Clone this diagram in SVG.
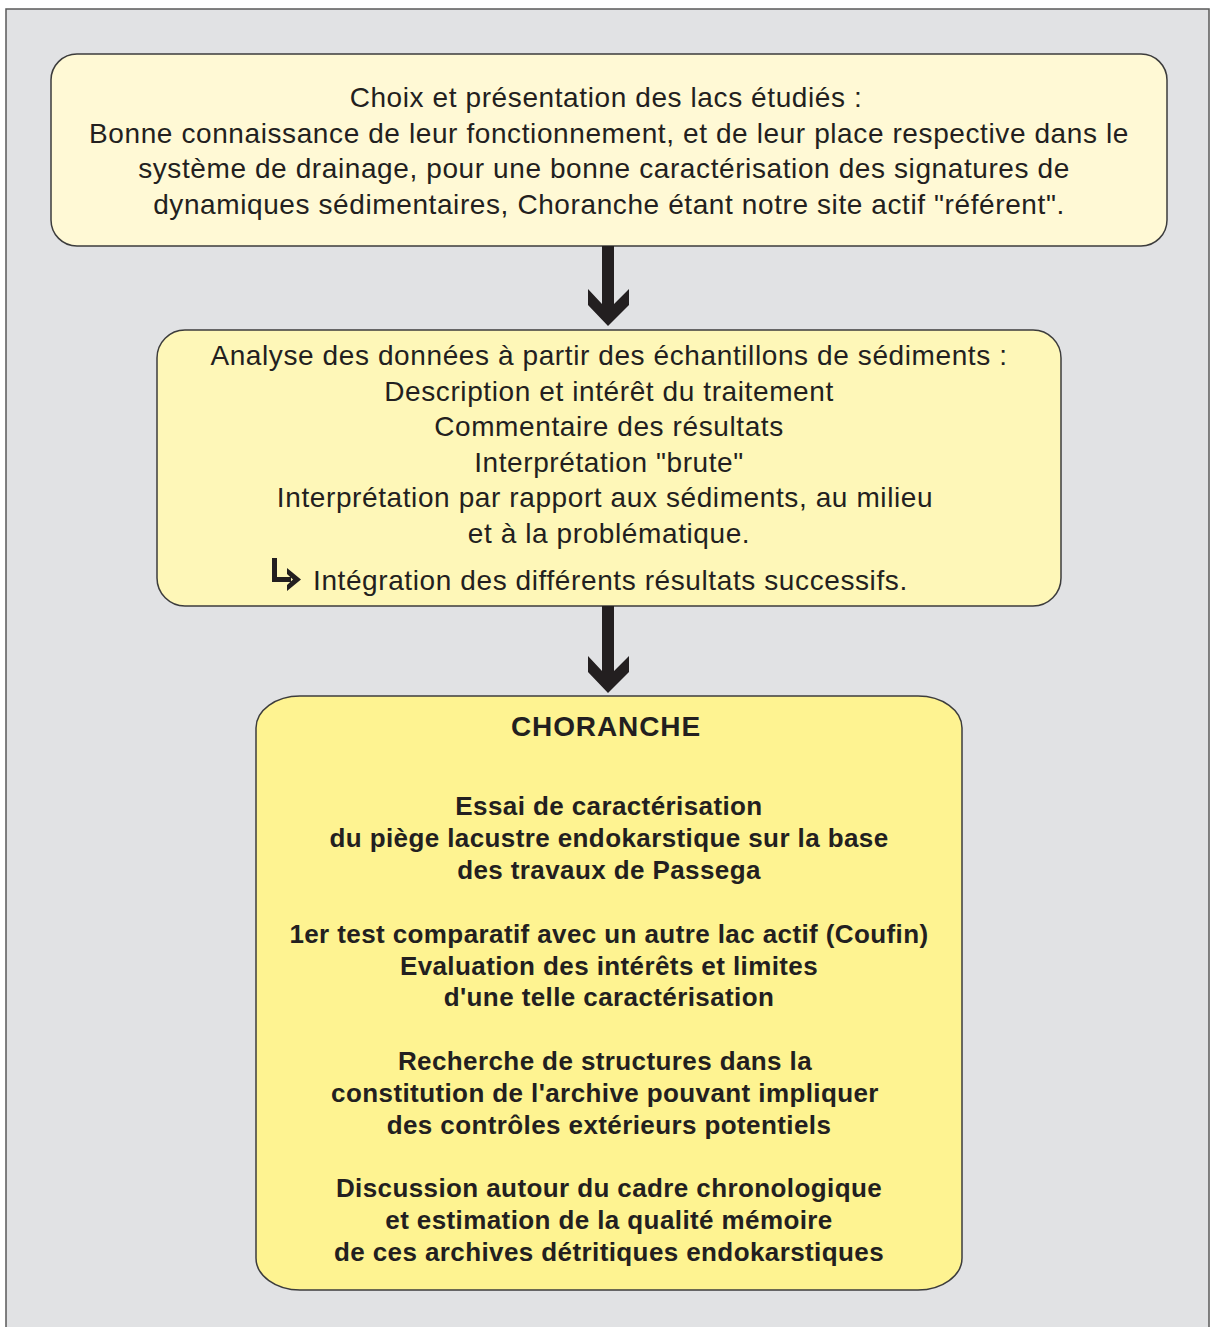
<svg xmlns="http://www.w3.org/2000/svg" width="1211" height="1327" viewBox="0 0 1211 1327">
<style>
.bg{fill:#e1e2e4;stroke:#5a5a5a;stroke-width:1.5}
.box{stroke:#3c3c3c;stroke-width:1.5}
.t{font-family:"Liberation Sans",Arial,sans-serif;font-size:28px;letter-spacing:0.6px;fill:#231f20;text-anchor:middle}
.b{font-family:"Liberation Sans",Arial,sans-serif;font-size:26px;letter-spacing:0.4px;font-weight:bold;fill:#231f20;text-anchor:middle}
.h{font-size:28px;letter-spacing:0.9px}
.arr{fill:#231f20}
</style>
<rect width="1211" height="1327" fill="#ffffff"/>
<rect class="bg" x="6" y="9" width="1203" height="1330"/>
<g id="node1">
<rect class="box" x="51" y="54" width="1116" height="192" rx="26" ry="26" fill="#fff9d5"/>
<text class="t" x="606" y="107">Choix et présentation des lacs étudiés :</text>
<text class="t" x="609" y="143">Bonne connaissance de leur fonctionnement, et de leur place respective dans le</text>
<text class="t" x="604" y="178">système de drainage, pour une bonne caractérisation des signatures de</text>
<text class="t" x="609" y="214">dynamiques sédimentaires, Choranche étant notre site actif "référent".</text>
</g>
<g id="node2">
<rect class="box" x="157" y="330" width="904" height="276" rx="28" ry="28" fill="#fef7b8"/>
<text class="t" x="609" y="365">Analyse des données à partir des échantillons de sédiments :</text>
<text class="t" x="609" y="401">Description et intérêt du traitement</text>
<text class="t" x="609" y="436">Commentaire des résultats</text>
<text class="t" x="609" y="472">Interprétation "brute"</text>
<text class="t" x="605" y="507">Interprétation par rapport aux sédiments, au milieu</text>
<text class="t" x="609" y="543">et à la problématique.</text>
<path d="M274.5 558 V579.5 H291" fill="none" stroke="#231f20" stroke-width="5"/>
<polygon class="arr" points="287,568 301,579.5 287,591 287,585 293,579.5 287,574"/>
<text class="t" x="313" y="590" style="text-anchor:start">Intégration des différents résultats successifs.</text>
</g>
<g id="node3">
<rect class="box" x="256" y="696" width="706" height="594" rx="44" ry="32" fill="#fef391"/>
<text class="b h" x="606" y="736">CHORANCHE</text>
<text class="b" x="609" y="815">Essai de caractérisation</text>
<text class="b" x="609" y="847">du piège lacustre endokarstique sur la base</text>
<text class="b" x="609" y="879">des travaux de Passega</text>
<text class="b" x="609" y="943">1er test comparatif avec un autre lac actif (Coufin)</text>
<text class="b" x="609" y="975">Evaluation des intérêts et limites</text>
<text class="b" x="609" y="1006">d'une telle caractérisation</text>
<text class="b" x="605" y="1070">Recherche de structures dans la</text>
<text class="b" x="605" y="1102">constitution de l'archive pouvant impliquer</text>
<text class="b" x="609" y="1134">des contrôles extérieurs potentiels</text>
<text class="b" x="609" y="1197">Discussion autour du cadre chronologique</text>
<text class="b" x="609" y="1229">et estimation de la qualité mémoire</text>
<text class="b" x="609" y="1261">de ces archives détritiques endokarstiques</text>
</g>
<g id="connectors">
<polygon class="arr" points="602,246 614,246 614,304 629,289 629,305 608,326 588,305 588,289 602,304"/>
<polygon class="arr" points="602,606 614,606 614,671 629,656 629,672 608,693 588,672 588,656 602,671"/>
</g>
</svg>
